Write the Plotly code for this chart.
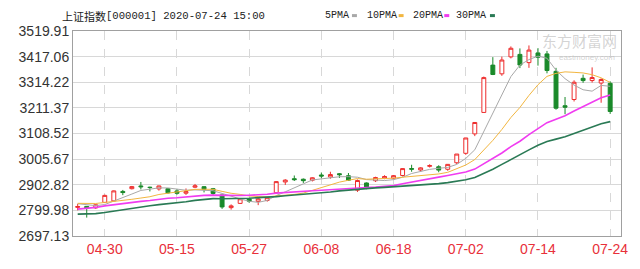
import plotly.graph_objects as go
import pandas as pd

dates = ["04-27","04-28","04-29","04-30","05-06","05-07","05-08","05-11","05-12","05-13",
         "05-14","05-15","05-18","05-19","05-20","05-21","05-22","05-25","05-26","05-27",
         "05-28","05-29","06-01","06-02","06-03","06-04","06-05","06-08","06-09","06-10",
         "06-11","06-12","06-15","06-16","06-17","06-18","06-19","06-22","06-23","06-24",
         "06-29","06-30","07-01","07-02","07-03","07-06","07-07","07-08","07-09","07-10",
         "07-13","07-14","07-15","07-16","07-17","07-20","07-21","07-22","07-23","07-24"]
opens = [2812,2816,2810,2832,2838,2876,2887,2898,2893,2886,
         2887,2878,2869,2893,2895,2887,2862,2811,2828,2846,
         2836,2840,2871,2914,2927,2925,2921,2942,2934,2947,
         2939,2881,2910,2919,2930,2929,2940,2968,2962,2977,
         2975,2965,2991,3029,3107,3193,3383,3348,3416,3426,
         3393,3432,3428,3358,3220,3245,3330,3321,3311,3310]
highs = [2826,2817,2824,2863,2880,2882,2898,2914,2895,2899,
         2889,2886,2888,2906,2897,2890,2863,2824,2847,2850,
         2855,2853,2917,2925,2940,2928,2933,2952,2955,2950,
         2950,2924,2912,2935,2941,2942,2969,2983,2973,2985,
         2981,2986,3026,3091,3154,3337,3415,3417,3458,3450,
         3462,3451,3440,3372,3255,3322,3345,3374,3330,3318]
lows = [2800,2771,2806,2829,2836,2861,2884,2884,2876,2879,
        2867,2863,2862,2889,2872,2862,2806,2803,2826,2830,
        2821,2835,2870,2902,2918,2910,2916,2929,2927,2930,
        2918,2874,2885,2914,2925,2925,2936,2955,2954,2972,
        2953,2959,2986,3023,3098,3193,3343,3340,3410,3371,
        3372,3381,3350,3204,3186,3237,3312,3313,3232,3187]
closes = [2815.49,2810.02,2822.44,2860.08,2878.14,2871.52,2895.34,2894.80,2891.56,2898.05,
          2870.34,2868.46,2875.42,2898.58,2883.74,2867.92,2813.77,2817.97,2846.55,2836.80,
          2846.22,2852.35,2915.43,2921.40,2923.37,2919.25,2930.80,2937.77,2943.75,2943.32,
          2920.90,2919.74,2890.03,2931.75,2935.87,2939.32,2967.63,2965.27,2970.62,2979.55,
          2961.52,2984.67,3025.98,3090.57,3152.81,3332.88,3345.34,3403.44,3450.59,3383.32,
          3443.29,3414.62,3361.30,3210.10,3214.13,3314.15,3320.90,3333.16,3325.11,3196.77]
# closes of the 29 sessions before the first shown candle (needed for the moving averages)
prior_closes = [2789.25,2779.64,2728.76,2702.13,2745.62,2660.17,2722.44,2781.59,2764.91,2772.20,
                2747.21,2750.30,2734.52,2780.64,2763.99,2820.76,2815.37,2825.90,2796.63,2783.05,
                2827.28,2811.17,2819.94,2838.49,2852.55,2827.01,2843.98,2838.50,2808.53]

ma_periods = [5, 10, 20, 30]
ma_names = ["5PMA", "10PMA", "20PMA", "30PMA"]
ma_colors = ["#a8a8a8", "#f2b640", "#f03cf0", "#2a7a55"]
ma_widths = [1, 1, 1.6, 1.6]

y_ticks = [2697.13, 2799.98, 2902.82, 3005.67, 3108.52, 3211.37, 3314.22, 3417.06, 3519.91]
x_ticks = ["04-30", "05-15", "05-27", "06-08", "06-18", "07-02", "07-14", "07-24"]
title_cn = "上证指数"
title_rest = "[000001] 2020-07-24 15:00"

UP = "#ee2c2c"
DOWN = "#1a8a2a"

all_close = pd.Series(prior_closes + closes)

fig = go.Figure()
fig.add_trace(go.Candlestick(
    x=dates, open=opens, high=highs, low=lows, close=closes,
    increasing=dict(line=dict(color=UP, width=1), fillcolor="white"),
    decreasing=dict(line=dict(color=DOWN, width=1), fillcolor=DOWN),
    whiskerwidth=0, showlegend=False, hoverinfo="skip",
))
for n, name, col, w in zip(ma_periods, ma_names, ma_colors, ma_widths):
    ma = all_close.rolling(n).mean().iloc[len(prior_closes):].tolist()
    fig.add_trace(go.Scatter(x=dates, y=ma, mode="lines", name=name,
                             line=dict(color=col, width=w), showlegend=False,
                             hoverinfo="skip"))

W, H = 640, 269
L, R, T, B = 73, 15, 31, 25
pw, ph = W - L - R, H - T - B

def px(x):
    return (x - L) / pw

def py(y):
    return (H - B - y) / ph

MONO = "Liberation Mono, Noto Sans CJK SC"
annotations = [
    dict(text=title_cn, x=px(60), y=py(15), xref="paper", yref="paper",
         xanchor="left", yanchor="middle", showarrow=False,
         font=dict(family="Noto Sans CJK SC", size=11, color="#222")),
    dict(text=title_rest, x=px(104), y=py(15), xref="paper", yref="paper",
         xanchor="left", yanchor="middle", showarrow=False,
         font=dict(family=MONO, size=10.6, color="#222")),
]
shapes = []
leg_text_x = [325, 367, 413, 457]
leg_dash_x = [353, 400, 446, 492]
for name, col, tx, dx in zip(ma_names, ma_colors, leg_text_x, leg_dash_x):
    annotations.append(dict(text=name, x=px(tx), y=py(15), xref="paper", yref="paper",
                            xanchor="left", yanchor="middle", showarrow=False,
                            font=dict(family="Liberation Mono", size=10, color="#222")))
    shapes.append(dict(type="line", xref="paper", yref="paper", x0=px(dx + 1), x1=px(dx + 6),
                       y0=py(15), y1=py(15), line=dict(color=col, width=3)))
# watermark
annotations.append(dict(text="东方财富网", x=px(623), y=py(41), xref="paper", yref="paper",
                        xanchor="right", yanchor="middle", showarrow=False,
                        font=dict(family="Noto Sans CJK SC", size=15, color="rgba(175,175,175,0.55)")))
annotations.append(dict(text="eastmoney.com", x=px(621), y=py(59), xref="paper", yref="paper",
                        xanchor="right", yanchor="middle", showarrow=False,
                        font=dict(family="Liberation Sans", size=8, color="rgba(175,175,175,0.55)")))

fig.update_layout(
    width=W, height=H, margin=dict(l=L, r=R, t=T, b=B),
    paper_bgcolor="white", plot_bgcolor="white",
    showlegend=False, boxgap=0.38,
    annotations=annotations, shapes=shapes,
    xaxis=dict(type="category", range=[-0.52, 60.2], rangeslider=dict(visible=False),
               tickmode="array", tickvals=x_ticks, ticktext=x_ticks,
               showgrid=True, gridcolor="#d8d8d8", griddash="dash", gridwidth=1,
               showline=True, linecolor="#a0a0a0", mirror=True, ticks="",
               tickfont=dict(family="Liberation Sans", size=14, color="#e8303a"),
               fixedrange=True),
    yaxis=dict(range=[2697.12, 3519.92], tickmode="array", tickvals=y_ticks,
               ticktext=[f"{v:.2f}" for v in y_ticks],
               showgrid=True, gridcolor="#d8d8d8", gridwidth=1,
               showline=True, linecolor="#a0a0a0", mirror=True, ticks="",
               zeroline=False,
               tickfont=dict(family="Liberation Sans", size=14, color="#333"),
               fixedrange=True),
)

fig.write_html("out.html")
